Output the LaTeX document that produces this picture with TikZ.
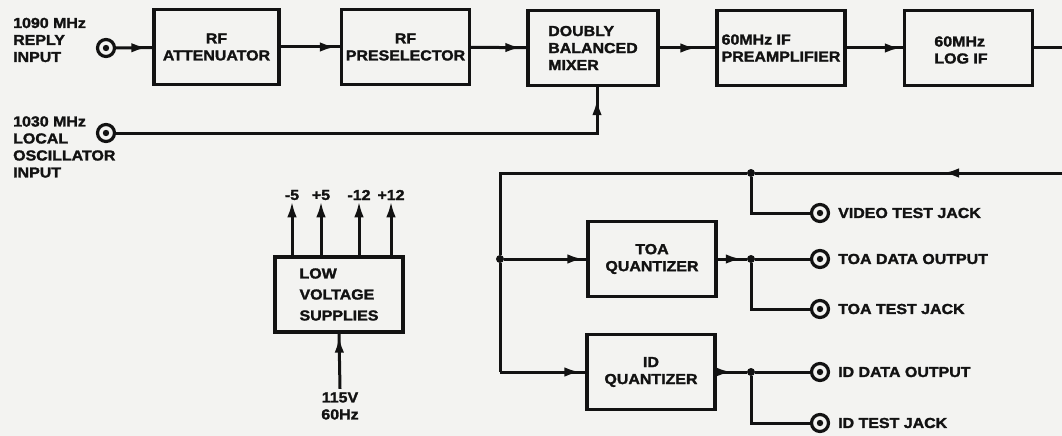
\documentclass[tikz,border=0pt]{standalone}
\usepackage{fontspec}
\setmainfont{Liberation Sans}[FakeStretch=1.1, BoldFeatures={FakeBold=1.8}]
\usetikzlibrary{arrows.meta,decorations.markings}
\definecolor{paper}{RGB}{243,243,241}
\definecolor{ink}{RGB}{18,18,18}
\newcommand\diafont{\fontsize{14.5}{17}\selectfont\bfseries}
\newcommand\lvfont{\fontsize{14.5}{21}\selectfont\bfseries}
\begin{document}
\begin{tikzpicture}[x=1pt,y=-1pt,
  every node/.style={font=\diafont, text=ink},
  blk/.style={draw=ink, line width=3.3pt, minimum width=128pt, minimum height=75pt, inner sep=2pt, align=center},
  wire/.style={draw=ink, color=ink, line width=3pt},
  marr/.style={postaction={decorate, decoration={markings, mark=at position #1 with {\arrow{Latex[length=16pt,width=9.5pt]}}}}},
  uparr/.style={-{Latex[length=16pt,width=9.5pt]}},
  jack/.style={circle, draw=ink, line width=3.2pt, minimum size=17pt, inner sep=0pt, path picture={\fill[ink] (path picture bounding box.center) circle (3.2pt);}},
  dot/.style={circle, fill=ink, inner sep=0pt, minimum size=8pt},
  lab/.style={align=left, anchor=west, inner sep=0pt}
]
\path[use as bounding box, fill=paper] (0,0) rectangle (1062,436);

% left inputs
\node[jack] (rj) at (106,48) {};
\node[lab] (rl) at (13,40) {1090 MHz\\REPLY\\INPUT};
\node[jack] (lj) at (106,133) {};
\node[lab] (ll) at (13,147) {1030 MHz\\LOCAL\\OSCILLATOR\\INPUT};

% top chain
\node[blk, minimum width=125pt] (att) at (216.5,47) {RF\\ATTENUATOR};
\node[blk] (pre) at (405.5,47) {RF\\PRESELECTOR};
\node[blk, minimum width=130pt, align=left] (mix) at (593,48) {DOUBLY\\BALANCED\\MIXER};
\node[blk, align=left] (ifp) at (781,48) {60MHz IF\\PREAMPLIFIER};
\node[blk] (log) at (968.5,48) {};
\node[align=left] (logt) at (961,50) {60MHz\\LOG IF};
\coordinate (outR) at (1062,48);

\draw[wire, marr=-5pt] (rj) -- (att);
\draw[wire, marr=-4pt] (att) -- (pre);
\draw[wire, marr=-5pt] (pre) -- (mix);
\draw[wire, marr=-19pt] (mix) -- (ifp);
\draw[wire, marr=-2pt] (ifp) -- (log);
\draw[wire] (log) -- (outR);

\coordinate (lc) at (597,133);
\draw[wire, marr=-12pt] (lj) -- (lc) -- (lc |- mix.south);

% feedback / video path
\coordinate (fbR) at (1062,173);
\node[dot] (v1) at (751,173) {};
\coordinate (c1) at (500,173);
\node[dot] (j1) at (500,259) {};
\coordinate (c2) at (500,372);
\draw[wire, marr=119pt] (fbR) -- (v1);
\draw[wire] (v1) -- (c1) -- (j1) -- (c2);

\node[blk] (toa) at (652,259) {TOA\\QUANTIZER};
\node[blk] (idq) at (651,372) {ID\\QUANTIZER};
\draw[wire, marr=-3pt] (j1) -- (toa);
\draw[wire, marr=-5pt] (c2) -- (idq);

\node[dot] (t1) at (751,259) {};
\node[dot] (i1) at (751,372) {};
\draw[wire, marr=-5pt] (toa) -- (t1);
\draw[wire, marr=-15pt] (idq) -- (i1);

% right jacks
\node[jack] (vj) at (820,213) {};
\node[jack] (tdj) at (820,259) {};
\node[jack] (ttj) at (820,309) {};
\node[jack] (idj) at (820,372) {};
\node[jack] (itj) at (820,423) {};
\draw[wire] (v1) |- (vj);
\draw[wire] (t1) -- (tdj);
\draw[wire] (t1) |- (ttj);
\draw[wire] (i1) -- (idj);
\draw[wire] (i1) |- (itj);
\node[lab] (vl) at (838,213) {VIDEO TEST JACK};
\node[lab] (tdl) at (838,259) {TOA DATA OUTPUT};
\node[lab] (ttl) at (838,309) {TOA TEST JACK};
\node[lab] (idl) at (838,372) {ID DATA OUTPUT};
\node[lab] (itl) at (838,423) {ID TEST JACK};

% low voltage supplies
\node[blk, align=left, font=\lvfont] (lv) at (339,294.5) {LOW\\VOLTAGE\\SUPPLIES};
\node[inner sep=1pt] (p1) at (292,195) {-5};
\node[inner sep=1pt] (p2) at (321,195) {+5};
\node[inner sep=1pt] (p3) at (359,195) {-12};
\node[inner sep=1pt] (p4) at (391,195) {+12};
\foreach \p in {p1,p2,p3,p4}{
  \draw[wire, uparr] (lv.north -| \p.south) -- (\p.south);
}
\node[align=center] (ac) at (340,406) {115V\\60Hz};
\draw[wire, marr=-3pt] (ac.north) -- (lv.south);
\end{tikzpicture}
\end{document}
